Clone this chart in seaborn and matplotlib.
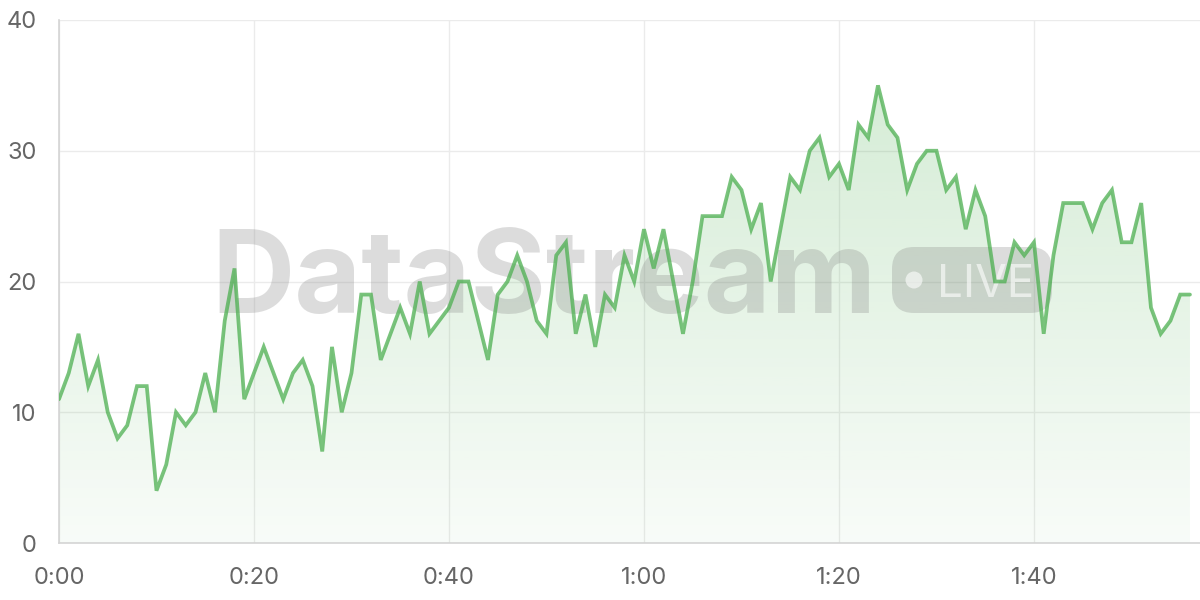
import numpy as np
import seaborn as sns
import matplotlib.pyplot as plt
from matplotlib.patches import Polygon, FancyBboxPatch, Circle
from matplotlib.transforms import IdentityTransform

# data: one reading per second
seconds = list(range(117))
values = [11, 13, 16, 12, 14, 10, 8, 9, 12, 12,
          4, 6, 10, 9, 10, 13, 10, 17, 21, 11,
          13, 15, 13, 11, 13, 14, 12, 7, 15, 10,
          13, 19, 19, 14, 16, 18, 16, 20, 16, 17,
          18, 20, 20, 17, 14, 19, 20, 22, 20, 17,
          16, 22, 23, 16, 19, 15, 19, 18, 22, 20,
          24, 21, 24, 20, 16, 20, 25, 25, 25, 28,
          27, 24, 26, 20, 24, 28, 27, 30, 31, 28,
          29, 27, 32, 31, 35, 32, 31, 27, 29, 30,
          30, 27, 28, 24, 27, 25, 20, 20, 23, 22,
          23, 16, 22, 26, 26, 26, 24, 26, 27, 23,
          23, 26, 18, 16, 17, 19, 19]
tick_pos = [0, 20, 40, 60, 80, 100]
tick_labels = ["0:00", "0:20", "0:40", "1:00", "1:20", "1:40"]
y_ticks = [0, 10, 20, 30, 40]

green = "#4caf50"
grid_c = "#ebebeb"

sns.set_theme(style="whitegrid")
plt.rcParams['font.family'] = ['Inter', 'DejaVu Sans']

fig = plt.figure(figsize=(12, 6), dpi=100)
ax = fig.add_axes([59 / 1200, 57 / 600, 1141 / 1200, 523 / 600])
ax.set_facecolor("white")

# gradient fill under the line
verts = [(seconds[0], 0)] + list(zip(seconds, values)) + [(seconds[-1], 0)]
clip = Polygon(verts, closed=True, facecolor="none", edgecolor="none",
               transform=ax.transData)
ax.add_patch(clip)
rgba = np.zeros((256, 1, 4))
rgba[..., :3] = (76 / 255, 175 / 255, 80 / 255)
rgba[:, 0, 3] = np.linspace(0.04, 0.26, 256)
im = ax.imshow(rgba, extent=(0, 117, 0, 40), origin="lower", aspect="auto",
               zorder=1)
im.set_clip_path(clip)

# watermark
ax.text(211 / 1200, 287 / 600, "DataStream", transform=fig.transFigure,
        fontsize=83, fontweight="bold", color="#808080", alpha=0.27,
        ha="left", va="baseline", zorder=2)
badge = FancyBboxPatch((892, 287), 160, 66,
                       boxstyle="round,pad=0,rounding_size=22",
                       transform=IdentityTransform(), facecolor="#808080",
                       edgecolor="none", alpha=0.27, zorder=2)
ax.add_artist(badge)
ax.add_artist(Circle((914, 320), 8.5, transform=IdentityTransform(),
                     facecolor="white", edgecolor="none", alpha=0.6, zorder=3))
ax.text(937 / 1200, 303 / 600, "LIVE", transform=fig.transFigure,
        fontsize=33, color="white", alpha=0.6, ha="left", va="baseline",
        zorder=3)

sns.lineplot(x=seconds, y=values, ax=ax, color=green, alpha=0.75,
             linewidth=2.7, solid_joinstyle="miter", zorder=4)

ax.set_xlim(0, 117.03)
ax.set_ylim(0, 40)
ax.set_xticks(tick_pos)
ax.set_xticklabels(tick_labels)
ax.set_yticks(y_ticks)
ax.set_xlabel("")
ax.set_ylabel("")
ax.grid(True, color=grid_c, linewidth=1)
ax.set_axisbelow(True)
ax.tick_params(length=10, width=1, color=grid_c, labelsize=17,
               labelcolor="#666666")
ax.tick_params(axis="x", pad=7)
ax.tick_params(axis="y", pad=6)
for s in ["top", "right"]:
    ax.spines[s].set_visible(False)
for s in ["left", "bottom"]:
    ax.spines[s].set_color("#d4d4d4")
    ax.spines[s].set_linewidth(1.2)

fig.savefig("out.png", dpi=100)
